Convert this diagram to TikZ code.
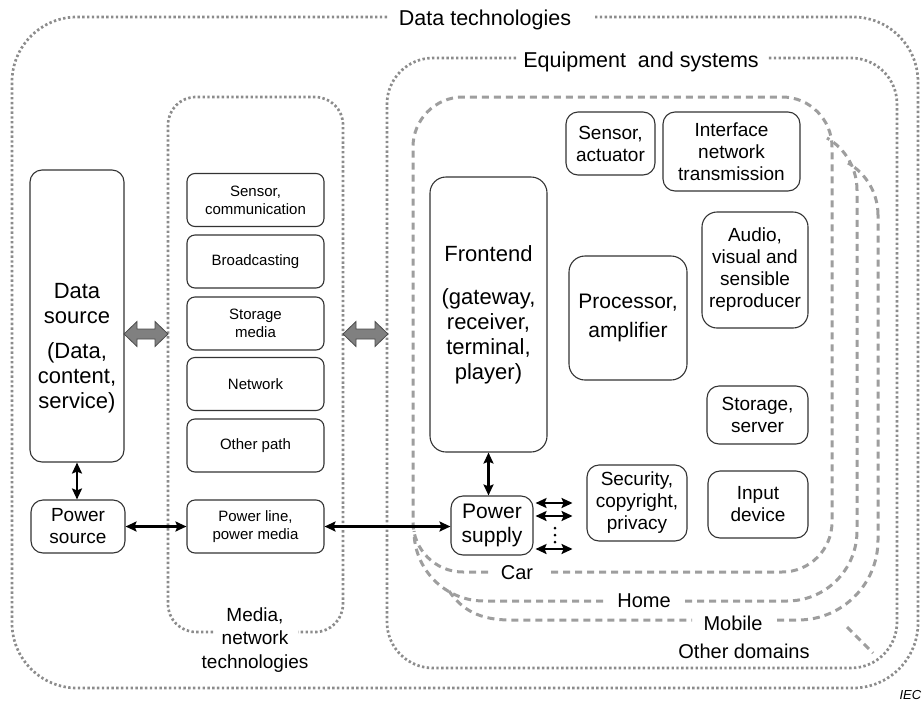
\documentclass[tikz,border=0pt]{standalone}
\usepackage{fontspec}
\setmainfont{Liberation Sans}
\usetikzlibrary{arrows.meta,calc}

\tikzset{
  box/.style={draw=black!80, line width=1.1pt, rounded corners=12pt, align=center, inner sep=1pt},
  bigfont/.style={font=\fontsize{22}{25}\selectfont},
  midfont/.style={font=\fontsize{19}{22}\selectfont},
  smallfont/.style={font=\fontsize{15}{18}\selectfont},
  mbox/.style={box, smallfont, rounded corners=8pt, minimum width=137pt, minimum height=53pt},
  techline/.style={draw=black!45, line width=2.7pt, dash pattern=on 2.4pt off 2.4pt},
  domainline/.style={draw=black!38, line width=3pt, dash pattern=on 7pt off 5pt},
  biarrow/.style={line width=2.2pt, {Stealth[length=11pt,width=10pt,inset=2pt]}-{Stealth[length=11pt,width=10pt,inset=2pt]}},
  fatarrow/.style={draw=black!70, line width=0.8pt, fill=black!50},
  headlabel/.style={font=\fontsize{21.5}{24}\selectfont},
  dlabel/.style={font=\fontsize{20}{23}\selectfont},
}

\begin{document}
\begin{tikzpicture}[x=1pt,y=-1pt]
    \useasboundingbox (0,0) rectangle (924,702);

    % technology regions (dotted)
    \draw[techline,rounded corners=65pt] (387,17) -- (12,17) -- (12,688) -- (918,688) -- (918,17) -- (594,17);
    \draw[techline,rounded corners=46pt] (516,58) -- (387,58) -- (387,668) -- (897,668) -- (897,58) -- (768,58);
    \draw[techline,rounded corners=28pt] (213,632) -- (168,632) -- (168,97) -- (343,97) -- (343,632) -- (298,632);

    % application domains (dashed)
    \draw[domainline,rounded corners=50pt] (488,572) -- (413,572) -- (413,97) -- (832,97) -- (832,572) -- (548,572);
    \draw[domainline,rounded corners=70pt] (603,601) -- (414,601) -- (414,531);
    \draw[domainline,rounded corners=70pt] (685,601) -- (857,601) -- (857,190);
    \draw[domainline] (857,190) .. controls (857,168.6) and (845.5,148.7) .. (827,138);
    \draw[domainline] (449,591) .. controls (462,610) and (480,620) .. (510,620) -- (692,620);
    \draw[domainline,rounded corners=80pt] (777,620) -- (878,620) -- (878,215);
    \draw[domainline] (878,215) .. controls (878,193.6) and (866.5,173.7) .. (848,163);
    \draw[domainline] (847,627) -- (873,653);

    % data side
    \node[box, minimum width=94pt, minimum height=292pt] (dsrc) at (77,316) {};
    \node[bigfont, align=center] (dsrctext) at (77,348) {Data\\source\\[10pt](Data,\\content,\\service)};
    \node[box, midfont, minimum width=94pt, minimum height=53pt] (psrc) at (78,526.5) {Power\\source};

    % media column
    \node[mbox] (sensc) at (255.5,200) {Sensor,\\communication};
    \node[mbox] (bcast) at (255.5,261.5) {Broadcasting};
    \node[mbox] (stmed) at (255.5,323.5) {Storage\\media};
    \node[mbox] (netw) at (255.5,384) {Network};
    \node[mbox] (opath) at (255.5,445.5) {Other path};
    \node[mbox] (pline) at (255.5,526.5) {Power line,\\power media};

    % equipment
    \node[box, bigfont, rounded corners=16pt, minimum width=117pt, minimum height=275pt] (front) at (488.5,314.5)
        {Frontend\\[18pt](gateway,\\receiver,\\terminal,\\player)};
    \node[box, font=\fontsize{21}{24}\selectfont, minimum width=82pt, minimum height=59pt] (psup) at (492,525.5) {Power\\supply};
    \node[box, midfont, minimum width=89pt, minimum height=63pt] (sact) at (610.5,143.5) {Sensor,\\actuator};
    \node[box, midfont, minimum width=137pt, minimum height=79pt] (iface) at (731.5,151.5) {Interface\\network\\transmission};
    \node[box, midfont, rounded corners=15pt, minimum width=106pt, minimum height=116pt] (avrep) at (755,270)
        {Audio,\\visual and\\sensible\\reproducer};
    \node[box, font=\fontsize{21}{29}\selectfont, rounded corners=16pt, minimum width=118pt, minimum height=124pt] (proc) at (628,318)
        {Processor,\\amplifier};
    \node[box, midfont, minimum width=101pt, minimum height=58pt] (stsrv) at (757.5,415) {Storage,\\server};
    \node[box, midfont, minimum width=100pt, minimum height=76pt] (secu) at (637,503) {Security,\\copyright,\\privacy};
    \node[box, midfont, minimum width=100pt, minimum height=67pt] (indev) at (758,504.5) {Input\\device};

    % wide grey links between the regions
    \foreach \xa/\xb in {124/168, 343/388} {
        \draw[fatarrow] (\xa,334) -- ++(13,-12.5) -- ++(0,7.5) -- (\xb-13,329) -- ++(0,-7.5) -- (\xb,334)
            -- ++(-13,12.5) -- ++(0,-7.5) -- (\xa+13,339) -- ++(0,7.5) -- cycle;
    }

    % power links
    \draw[biarrow] (dsrc.south) -- (dsrc.south |- psrc.north);
    \draw[biarrow] (psrc.east) -- (pline.west);
    \draw[biarrow] (pline.east) -- (pline.east -| psup.west);
    \draw[biarrow] (front.south) -- (front.south |- psup.north);
    \foreach \dy in {-22.5,-9.5,23.5}
        \draw[biarrow] ($(psup.east)+(2,\dy)$) -- ++(37,0);
    \foreach \y in {528,535,542}
        \fill (555,\y) circle (1.5);

    % region labels
    \node[headlabel] (dtech) at (485,20) {Data technologies};
    \node[headlabel] (equip) at (641,62) {Equipment\ \ and systems};
    \node[font=\fontsize{19}{23.5}\selectfont, align=center] (media) at (255,640) {Media,\\network\\technologies};
    \node[dlabel] (car) at (517,573) {Car};
    \node[dlabel] (home) at (644,601) {Home};
    \node[dlabel] (mobile) at (733,623) {Mobile};
    \node[dlabel] (others) at (744,651) {Other domains};
    \node[font=\fontsize{13}{15}\selectfont\itshape, anchor=west] (iec) at (896,695) {IEC};
\end{tikzpicture}
\end{document}
